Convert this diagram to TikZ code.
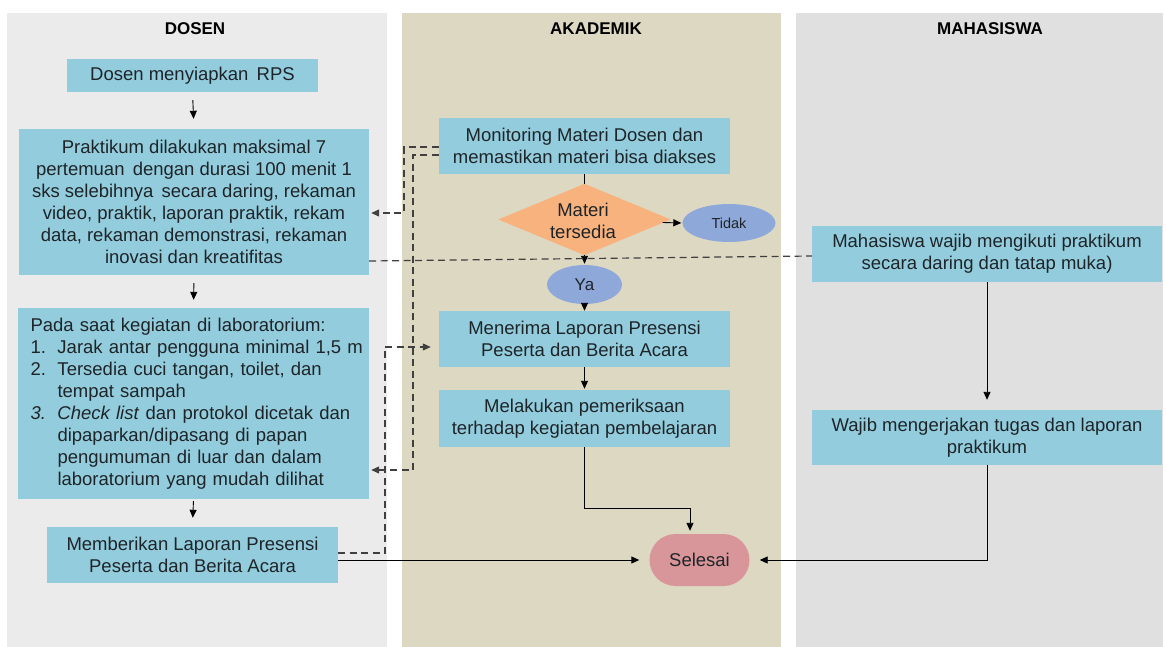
\documentclass[tikz,border=0pt]{standalone}
\usepackage{fontspec}
\setmainfont{Liberation Sans}
\usetikzlibrary{arrows.meta,calc,shapes.geometric}
\definecolor{laneA}{HTML}{EBEBEB}
\definecolor{laneB}{HTML}{DDD8C2}
\definecolor{laneC}{HTML}{E0E0E0}
\definecolor{boxblue}{HTML}{93CDDD}
\definecolor{diaorange}{HTML}{F8B27E}
\definecolor{ellblue}{HTML}{8EA9D9}
\definecolor{endpink}{HTML}{D9969A}
\definecolor{txt}{HTML}{1E2428}
\definecolor{dashcol}{HTML}{404040}
\newcommand{\itmline}[2]{\hbox to 326pt{\hbox to 27pt{#1\hfil}\hbox to 299pt{#2}}}
\tikzset{
  bodyfont/.style={font=\fontsize{18.5}{22}\selectfont, text=txt},
  procbox/.style={rectangle, fill=boxblue, inner sep=0pt, align=center, bodyfont},
  headtext/.style={font=\fontsize{17}{19}\selectfont\bfseries, text=black},
  ellnode/.style={ellipse, fill=ellblue, inner sep=0pt, text=txt},
  arr/.style={draw=black, line width=0.9pt, -{Triangle[length=8pt,width=7pt]}},
  plainline/.style={draw=black, line width=0.9pt},
  dashline/.style={draw=dashcol, line width=1.2pt, dash pattern=on 7pt off 4.5pt},
  dasharr/.style={dashline, -{Triangle[length=8pt,width=7pt]}},
}
\begin{document}
\begin{tikzpicture}[x=1pt,y=-1pt]
\useasboundingbox (0,0) rectangle (1166,647);
\fill[white] (0,0) rectangle (1166,647);
% lanes
\fill[laneA] (7,13) rectangle (387,647);
\fill[laneB] (402,13) rectangle (781,647);
\fill[laneC] (796,13) rectangle (1163,647);
\node[headtext] (hd) at (195,29) {DOSEN};
\node[headtext] (ha) at (596,29) {AKADEMIK};
\node[headtext] (hm) at (990,29) {MAHASISWA};

% DOSEN
\node[procbox, minimum width=251pt, minimum height=33pt] (d1) at (192.5,75.5) {Dosen menyiapkan\, RPS};
\node[procbox, minimum width=350pt, minimum height=146pt] (d2) at (194,202)
 {Praktikum dilakukan maksimal 7\\pertemuan\, dengan durasi 100 menit 1\\sks selebihnya\, secara daring, rekaman\\video, praktik, laporan praktik, rekam\\data, rekaman demonstrasi, rekaman\\inovasi dan kreatifitas};
\node[procbox, minimum width=351pt, minimum height=191pt, align=left, text width=326pt] (d3) at (193.5,403.5)
 {\hbox to 326pt{Pada saat kegiatan di laboratorium:\hfil}
  \itmline{1.}{Jarak antar pengguna minimal 1,5 m}
  \itmline{2.}{Tersedia cuci tangan, toilet, dan}
  \itmline{}{tempat sampah\hfil}
  \itmline{\textit{3.}}{\textit{Check list} dan protokol dicetak dan}
  \itmline{}{dipaparkan/dipasang di papan}
  \itmline{}{pengumuman di luar dan dalam}
  \itmline{}{laboratorium yang mudah dilihat\hfil}};
\node[procbox, minimum width=291pt, minimum height=56pt] (d4) at (192.5,555)
 {Memberikan Laporan Presensi\\Peserta dan Berita Acara};

% AKADEMIK
\node[procbox, minimum width=291pt, minimum height=56pt] (a1) at (584.5,146)
 {Monitoring Materi Dosen dan\\memastikan materi bisa diakses};
\node[rectangle, minimum width=172pt, minimum height=71pt, inner sep=0pt] (dia) at (584.5,219.5) {};
\fill[diaorange] (dia.north) -- (dia.east) -- (dia.south) -- (dia.west) -- cycle;
\node[bodyfont, align=center] (diat) at (583,221) {Materi\\tersedia};
\node[ellnode, minimum width=93pt, minimum height=38pt, font=\fontsize{14.5}{16}\selectfont] (tidak) at (729,223) {Tidak};
\node[ellnode, minimum width=75pt, minimum height=39pt, font=\fontsize{17}{18}\selectfont] (ya) at (584.5,284.5) {Ya};
\node[procbox, minimum width=291pt, minimum height=56pt] (a2) at (584.5,339)
 {Menerima Laporan Presensi\\Peserta dan Berita Acara};
\node[procbox, minimum width=291pt, minimum height=57pt] (a3) at (584.5,418.5)
 {Melakukan pemeriksaan\\terhadap kegiatan pembelajaran};
\node[rectangle, rounded corners=26pt, fill=endpink, minimum width=100pt, minimum height=52pt, inner sep=0pt, font=\fontsize{18.5}{20}\selectfont, text=txt] (sel) at (699.5,560) {Selesai};

% MAHASISWA
\node[procbox, minimum width=350pt, minimum height=56pt] (m1) at (987,254)
 {Mahasiswa wajib mengikuti praktikum\\secara daring dan tatap muka)};
\node[procbox, minimum width=350pt, minimum height=55pt] (m2) at (987,437.5)
 {Wajib mengerjakan tugas dan laporan\\praktikum};

% solid connectors
\draw[arr, shorten <=8pt, shorten >=10pt] (d1.south) -- (d2.north);
\draw[arr, shorten <=8pt, shorten >=8pt] (d2.south) -- (d3.north);
\draw[arr, shorten <=2pt, shorten >=9pt] (d3.south) -- (d4.north);
\draw[plainline] (a1.south) -- (dia.north);
\draw[arr, shorten >=1pt] (dia.south) -- (ya.north);
\draw[arr] (ya.south) -- (a2.north);
\draw[arr, shorten >=1pt] ($(dia.east)+(-8,3)$) -- (tidak.west);
\draw[arr, shorten >=1pt] (a2.south) -- (a3.north);
\coordinate (c5) at (690,508);
\draw[arr, shorten >=3pt] (a3.south) |- (c5) -- (sel.north -| c5);
\draw[arr, shorten >=10pt] (d4.east |- sel.west) -- (sel.west);
\draw[arr, shorten >=10pt] (m1.south) -- (m2.north);
\draw[arr, shorten >=10pt] (m2.south) |- (sel.east);

% dashed connectors
\coordinate (c1) at (404,213);
\draw[dasharr, shorten >=2pt] ($(a1.west)+(0,1)$) -| (c1) -- (d2.east |- c1);
\coordinate (c2) at (413,470);
\draw[dasharr, shorten >=2pt] ($(a1.west)+(0,9)$) -| (c2) -- (d3.east |- c2);
\coordinate (c3) at (385,347);
\draw[dasharr, shorten >=8pt] ($(d4.east)+(0,-2)$) -| (c3) -- (a2.west |- c3);
\draw[dashline] ($(d2.east)+(0,59)$) -- ($(m1.west)+(0,2)$);
\end{tikzpicture}
\end{document}
